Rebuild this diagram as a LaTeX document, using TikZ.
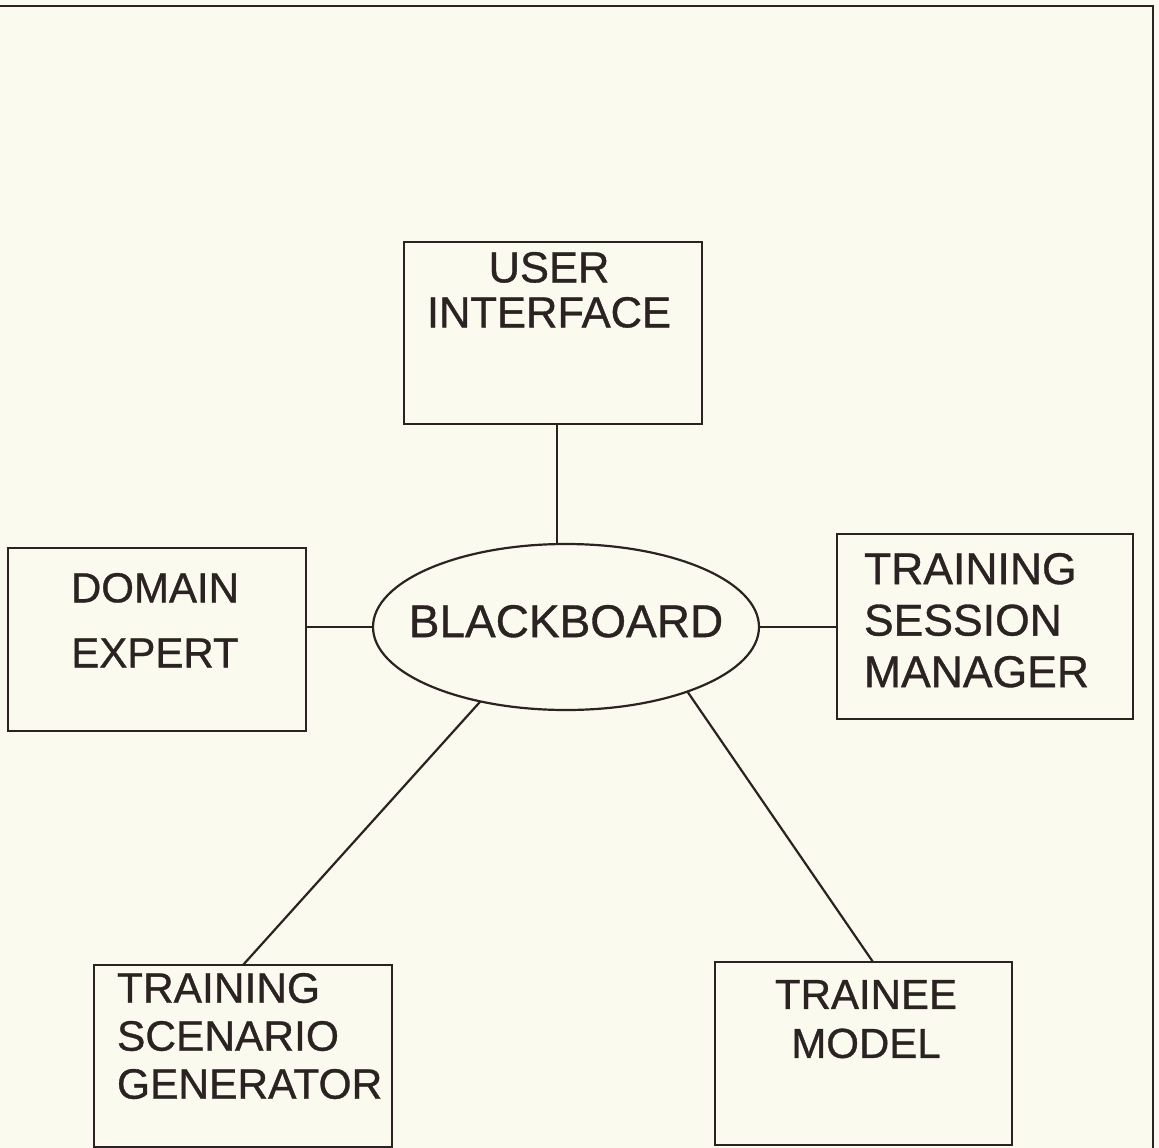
\documentclass[tikz,border=0pt]{standalone}
\usepackage{fontspec}
\setmainfont{Liberation Sans}[FakeBold=0.8]
\newfontfamily\lblfont{Liberation Sans}[FakeBold=0.8]
\usetikzlibrary{shapes.geometric}
\definecolor{paper}{HTML}{FBFAEF}
\definecolor{ink}{HTML}{2B2222}
\begin{document}
\begin{tikzpicture}[x=1pt,y=-1pt,
  box/.style={draw=ink, line width=2.2pt, rectangle, inner sep=0pt, outer sep=0pt},
  lbl/.style={inner sep=0pt, outer sep=0pt, text=ink},
  link/.style={draw=ink, line width=2.2pt}]
\fill[paper] (0,0) rectangle (1159,1148);
\useasboundingbox (0,0) rectangle (1159,1148);
% page frame (top and right edges)
\draw[ink, line width=2.8pt] (0,6) -- (1153,6) -- (1153,1148);

% boxes
\node[box, minimum width=298pt, minimum height=182pt] (ui)  at (553,333) {};
\node[box, minimum width=298pt, minimum height=183pt] (de)  at (157,639.5) {};
\node[box, minimum width=296pt, minimum height=185pt] (tsm) at (985,626.5) {};
\node[box, minimum width=298pt, minimum height=182pt] (tsg) at (243,1056) {};
\node[box, minimum width=297pt, minimum height=183pt] (tm)  at (863.5,1053.5) {};
\node[box, ellipse, minimum width=386pt, minimum height=166pt] (bb) at (566,627) {};

% labels
\node[lbl, anchor=north, align=center, font=\lblfont\fontsize{43.5pt}{45pt}\selectfont] (uit) at (549,252) {USER\\INTERFACE};
\node[lbl, anchor=north, align=center, font=\lblfont\fontsize{42pt}{65pt}\selectfont] (det) at (155,573) {DOMAIN\\EXPERT};
\node[lbl, anchor=north west, align=left, font=\lblfont\fontsize{44.5pt}{51.5pt}\selectfont] (tsmt) at (864,553) {TRAINING\\SESSION\\MANAGER};
\node[lbl, anchor=north west, align=left, font=\lblfont\fontsize{42.5pt}{48pt}\selectfont] (tsgt) at (117,973) {TRAINING\\SCENARIO\\GENERATOR};
\node[lbl, anchor=north, align=center, font=\lblfont\fontsize{42pt}{49pt}\selectfont] (tmt) at (866,980) {TRAINEE\\MODEL};
\node[lbl, anchor=north, font=\lblfont\fontsize{46pt}{48pt}\selectfont] (bbt) at (566,605) {BLACKBOARD};

% connectors
\draw[link] ([xshift=4pt]ui.south) -- ([xshift=4pt]ui.south |- bb.north);
\draw[link] (de.east |- bb.west) -- (bb.west);
\draw[link] (bb.east) -- (tsm.west |- bb.east);
\draw[link] (bb.221) -- (tsg.north);
\draw[link] (bb.332) -- ([xshift=9.5pt]tm.north);
\end{tikzpicture}
\end{document}
